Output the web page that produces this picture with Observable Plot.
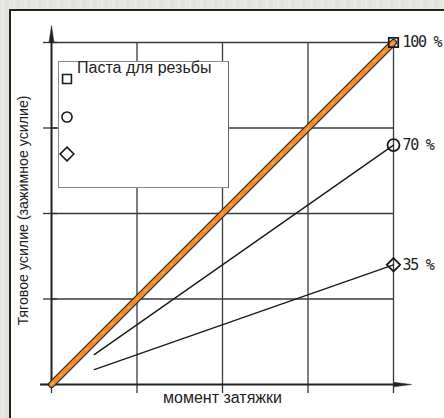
<!DOCTYPE html>
<html>
<head>
<meta charset="utf-8">
<script src="https://cdn.jsdelivr.net/npm/d3@7"></script>
<script src="https://cdn.jsdelivr.net/npm/@observablehq/plot@0.6"></script>
<style>
  html, body { margin: 0; padding: 0; }
  body { width: 444px; height: 418px; overflow: hidden; position: relative;
         background: repeating-linear-gradient(90deg, #e2e2de 0px, #ebebe7 3px, #dfdfdb 7px, #e8e8e4 11px); }
  #panel { position: absolute; left: 9px; top: 9px; width: 435px; height: 409px;
           background: #fff; border-left: 2px solid #222; border-top: 2px solid #222; box-sizing: border-box; }
  #chart { position: absolute; left: 0; top: 0; }
  #legend { position: absolute; left: 58px; top: 61px; width: 171px; height: 127px;
            background: #fff; border: 1px solid #8a8a8a; border-right-color: #666; box-sizing: border-box;
            font-family: "Liberation Sans", Arial, sans-serif; }
  #legend .title { position: absolute; left: 18px; top: -3px; font-size: 16px; color: #222; white-space: nowrap; }
  #legend svg { position: absolute; left: 0; top: 0; }
</style>
</head>
<body>
<div id="panel"></div>
<div id="chart"></div>
<div id="legend"></div>
<script>
// ---- data ----
const series = ["100 %", "70 %", "35 %"];
const startX = [0, 0.5, 0.5];
const startY = [0, 0.35, 0.175];
const endX = [4, 4, 4];
const endY = [4, 2.8, 1.4];
const symbols = ["square2", "circle", "diamond2"];
const gridTicks = [0, 1, 2, 3, 4];
const xLabel = "момент затяжки";
const yLabel = "Тяговое усилие (зажимное усилие)";
const legendTitle = "Паста для резьбы";

const lines = series.map((s, i) => [
  {s, x: startX[i], y: startY[i]},
  {s, x: endX[i], y: endY[i]}
]);
const ends = series.map((s, i) => ({s, x: endX[i], y: endY[i], sym: symbols[i]}));

const chart = Plot.plot({
  width: 444, height: 418,
  marginTop: 42, marginBottom: 34, marginLeft: 51, marginRight: 51,
  x: {type: "linear", domain: [0, 4], axis: null},
  y: {type: "linear", domain: [0, 4], axis: null},
  style: {background: "transparent", overflow: "visible"},
  marks: [
    // grid
    Plot.ruleX(gridTicks.slice(1), {x: d => d, y1: 0, y2: 4, stroke: "#3a3a3a", strokeWidth: 1.3}),
    Plot.ruleY(gridTicks.slice(1), {y: d => d, x1: 0, x2: 4, stroke: "#3a3a3a", strokeWidth: 1.3}),
    // ticks outside
    Plot.ruleX(gridTicks, {x: d => d, y1: 0, y2: 0, insetBottom: -9, stroke: "#333", strokeWidth: 1.3}),
    Plot.ruleY(gridTicks, {y: d => d, x1: 0, x2: 0, insetLeft: -8, insetRight: -6, stroke: "#333", strokeWidth: 1.3}),
    // axes
    Plot.ruleX([0], {x: d => d, y1: 0, y2: 4, stroke: "#222", strokeWidth: 2}),
    Plot.ruleY([0], {y: d => d, x1: 0, x2: 4, insetLeft: -11, stroke: "#222", strokeWidth: 2}),
    Plot.vector([0], {x: () => 0, y: () => 4, length: 17, rotate: 0, anchor: "start", shape: "spike", r: 2.5, fill: "#222", stroke: "#222", strokeWidth: 0.5}),
    Plot.vector([0], {x: () => 4, y: () => 0, length: 18, rotate: 90, anchor: "start", shape: "spike", r: 2.3, fill: "#222", stroke: "#222", strokeWidth: 0.5}),
    // series lines
    Plot.line(lines[0], {x: "x", y: "y", stroke: "#2a2a2a", strokeWidth: 7}),
    Plot.line(lines[0], {x: "x", y: "y", stroke: "#f0892c", strokeWidth: 4.6}),
    Plot.line(lines[0], {x: "x", y: "y", stroke: "#ffd9b0", strokeWidth: 1, strokeDasharray: "3 9", strokeOpacity: 0.8}),
    Plot.line(lines[1], {x: "x", y: "y", stroke: "#1a1a1a", strokeWidth: 1.4}),
    Plot.line(lines[2], {x: "x", y: "y", stroke: "#1a1a1a", strokeWidth: 1.4}),
    // end markers
    Plot.dot(ends, {x: "x", y: "y", symbol: "sym", r: 6, stroke: "#1a1a1a", strokeWidth: 1.8, fill: "none"}),
    // end labels
    Plot.text(ends, {x: "x", y: "y", text: "s", dx: 9, textAnchor: "start",
      fontFamily: "'DejaVu Sans Mono', monospace", fontSize: 15, fill: "#222"}),
    // axis labels
    Plot.text([xLabel], {frameAnchor: "bottom", dy: 13, text: d => d, fontSize: 16,
      fontFamily: "'Liberation Sans', Arial, sans-serif", fill: "#222", lineAnchor: "middle"}),
    Plot.text([yLabel], {frameAnchor: "left", dx: -28, dy: -3, text: d => d, rotate: -90, fontSize: 14.2,
      fontFamily: "'Liberation Sans', Arial, sans-serif", fill: "#222", textAnchor: "middle", lineAnchor: "middle"})
  ]
});
// condense the end labels (narrow drawn lettering)
d3.select(chart).selectAll("text").filter(function() { return series.includes(this.textContent); })
  .style("letter-spacing", "-1.3px");
document.getElementById("chart").appendChild(chart);

// legend
const lg = document.getElementById("legend");
const t = document.createElement("div");
t.className = "title";
t.textContent = legendTitle;
lg.appendChild(t);
const ns = "http://www.w3.org/2000/svg";
const svg = document.createElementNS(ns, "svg");
svg.setAttribute("width", 171); svg.setAttribute("height", 127);
const legendSym = symbols.map((s, i) => ({s, y: [17, 55, 92][i]}));
legendSym.forEach(({s, y}) => {
  const sym = s === "square2" ? d3.symbolSquare2 : s === "circle" ? d3.symbolCircle : d3.symbolDiamond2;
  const size = s === "square2" ? 100 : s === "circle" ? 80 : 120;
  const p = document.createElementNS(ns, "path");
  p.setAttribute("d", d3.symbol(sym, size)());
  p.setAttribute("transform", `translate(8,${y})`);
  p.setAttribute("fill", "none");
  p.setAttribute("stroke", "#1a1a1a");
  p.setAttribute("stroke-width", "1.6");
  svg.appendChild(p);
});
lg.appendChild(svg);
</script>
</body>
</html>
